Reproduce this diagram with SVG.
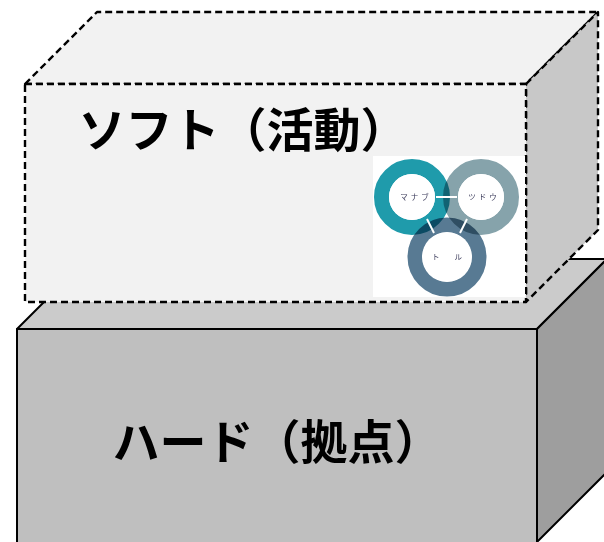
<svg xmlns="http://www.w3.org/2000/svg" width="604" height="542" viewBox="0 0 604 542">
<defs>
<style>
.solid{stroke:#000;stroke-width:2;stroke-linejoin:round}
.dash{stroke:#000;stroke-width:2.4;stroke-dasharray:7 4;stroke-linejoin:round}
.big{font-family:"Noto Sans CJK JP","Noto Sans",sans-serif;font-weight:700;font-size:47px;fill:#000;text-anchor:middle}
.small{font-family:"Noto Sans CJK JP","Noto Sans",sans-serif;font-size:7.5px;fill:#3a3a5a;text-anchor:middle;letter-spacing:3px}
.ring{fill:none;stroke-width:15;mix-blend-mode:multiply}
.gap{stroke:#fff;stroke-width:2}
</style>
</defs>
<rect width="604" height="542" fill="#fff"/>
<g id="hard-box">
<polygon class="solid" points="17,329 87,259 607,259 537,329" fill="#cbcbcb"/>
<polygon class="solid" points="537,329 607,259 607,472 537,542" fill="#9e9e9e"/>
<rect class="solid" x="17" y="329" width="520" height="225" fill="#bfbfbf"/>
<text class="big" x="277" y="459">ハード（拠点）</text>
</g>
<g id="soft-box">
<polygon class="dash" points="25,84 97,12 598,12 526,84" fill="#f2f2f2"/>
<polygon class="dash" points="526,84 598,12 598,230 526,302" fill="#c8c8c8"/>
<rect class="dash" x="25" y="84" width="501" height="218" fill="#f2f2f2"/>
<text class="big" x="243" y="147">ソフト（活動）</text>
</g>
<g id="venn">
<rect x="373" y="156" width="152" height="141" fill="#fff"/>
<g style="isolation:isolate">
<circle class="ring" cx="412" cy="197" r="30.5" stroke="#1f9bab"/>
<circle class="ring" cx="481" cy="197" r="30.5" stroke="#86a3ab"/>
<circle class="ring" cx="447" cy="257" r="32" stroke="#587a93"/>
</g>
<circle cx="412" cy="197" r="23" fill="#fff"/>
<circle cx="481" cy="197" r="23" fill="#fff"/>
<circle cx="447" cy="257" r="25" fill="#fff"/>
<line class="gap" x1="436" y1="197" x2="457" y2="197"/>
<line class="gap" x1="427" y1="219" x2="434" y2="233"/>
<line class="gap" x1="467" y1="219" x2="460" y2="233"/>
<text class="small" x="416" y="200">マナブ</text>
<text class="small" x="484" y="200">ツドウ</text>
<text class="small" x="447" y="260" style="letter-spacing:0">ト　　ル</text>
</g>
<g id="connectors"/>
</svg>
